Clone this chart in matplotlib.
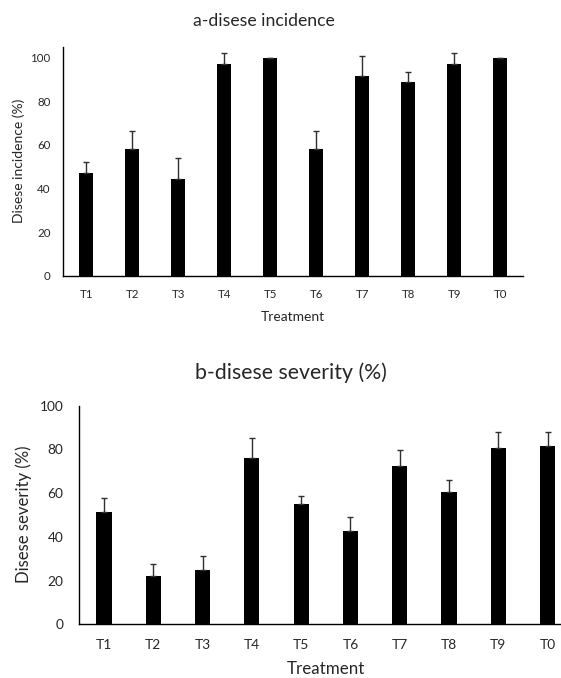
import matplotlib
matplotlib.use("Agg")
import matplotlib.pyplot as plt
import numpy as np

treatments = ["T1", "T2", "T3", "T4", "T5", "T6", "T7", "T8", "T9", "T0"]
incidence = [47.1, 58.2, 44.4, 97.3, 100.0, 58.2, 91.6, 88.8, 97.3, 100.0]
incidence_err = [4.9, 8.4, 9.6, 4.8, 0.0, 8.4, 9.3, 4.8, 4.8, 0.0]
severity = [51.2, 22.1, 25.0, 76.1, 55.0, 42.7, 72.3, 60.5, 80.5, 81.7]
severity_err = [6.4, 5.3, 6.2, 9.3, 3.6, 6.4, 7.4, 5.7, 7.3, 6.1]
yticks = [0, 20, 40, 60, 80, 100]

plt.rcParams['font.family'] = ['Lato', 'DejaVu Sans']
TXT = '#262626'
W, H = 561, 678
fig = plt.figure(figsize=(W / 100, H / 100), dpi=100)
PT = 100 / 72.0  # px per point


def px_axes(l, r, t, b):
    return fig.add_axes([l / W, 1 - b / H, (r - l) / W, (b - t) / H])


def fit_text(t, target, vertical=False):
    fig.canvas.draw()
    bb = t.get_window_extent()
    cur = bb.height if vertical else bb.width
    t.set_fontsize(t.get_fontsize() * target / cur)


def ftext(x, y, s, fs, target, vertical=False, va='baseline'):
    t = fig.text(x / W, 1 - y / H, s, ha='center', va=va, fontsize=fs,
                 color=TXT, rotation=90 if vertical else 0)
    fit_text(t, target, vertical)
    return t


def draw(ax, vals, errs, ymax, width, cap, xpad_px, ypad_px, w100):
    x = np.arange(len(treatments))
    ax.bar(x, vals, width=width, color='black', zorder=2)
    ax.errorbar(x, vals, yerr=[np.zeros(len(errs)), errs], fmt='none',
                ecolor='#303030', elinewidth=1.0, capsize=cap, capthick=1.0, zorder=3)
    ax.set_xlim(-0.5, len(treatments) - 0.5)
    ax.set_ylim(0, ymax)
    ax.set_yticks(yticks)
    ax.set_xticks(x)
    ax.set_xticklabels(treatments)
    ax.tick_params(length=0, labelsize=10, colors=TXT)
    ax.tick_params(axis='x', pad=xpad_px / PT)
    ax.tick_params(axis='y', pad=ypad_px / PT)
    for s in ['top', 'right']:
        ax.spines[s].set_visible(False)
    for s in ['left', 'bottom']:
        ax.spines[s].set_color('black')
        ax.spines[s].set_linewidth(1.0)
    fig.canvas.draw()
    lab = [l for l in ax.get_yticklabels() if l.get_text() == '100'][0]
    w = lab.get_window_extent().width
    ax.tick_params(labelsize=10 * w100 / w)


ax1 = px_axes(63.3, 523.3, 46.7, 276)
draw(ax1, incidence, incidence_err, 105, 0.31, 2.3, 13.5, 12.6, 20)
ftext(263.7, 26, "a-disese incidence", 11, 141)
ftext(293.3, 320.7, "Treatment", 9, 64)
ftext(18.3, 161, "Disese incidence (%)", 9, 124, vertical=True, va='center')

ax2 = px_axes(79.3, 572.3, 405.7, 624.3)
draw(ax2, severity, severity_err, 100, 0.31, 2.5, 14.5, 16, 24)
ftext(291, 379.3, "b-disese severity (%)", 14, 192)
ftext(325.8, 676.5, "Treatment", 11, 77.7, va='bottom')
ftext(23.3, 514, "Disese severity (%)", 11, 138, vertical=True, va='center')

fig.savefig("out.png", dpi=100)
